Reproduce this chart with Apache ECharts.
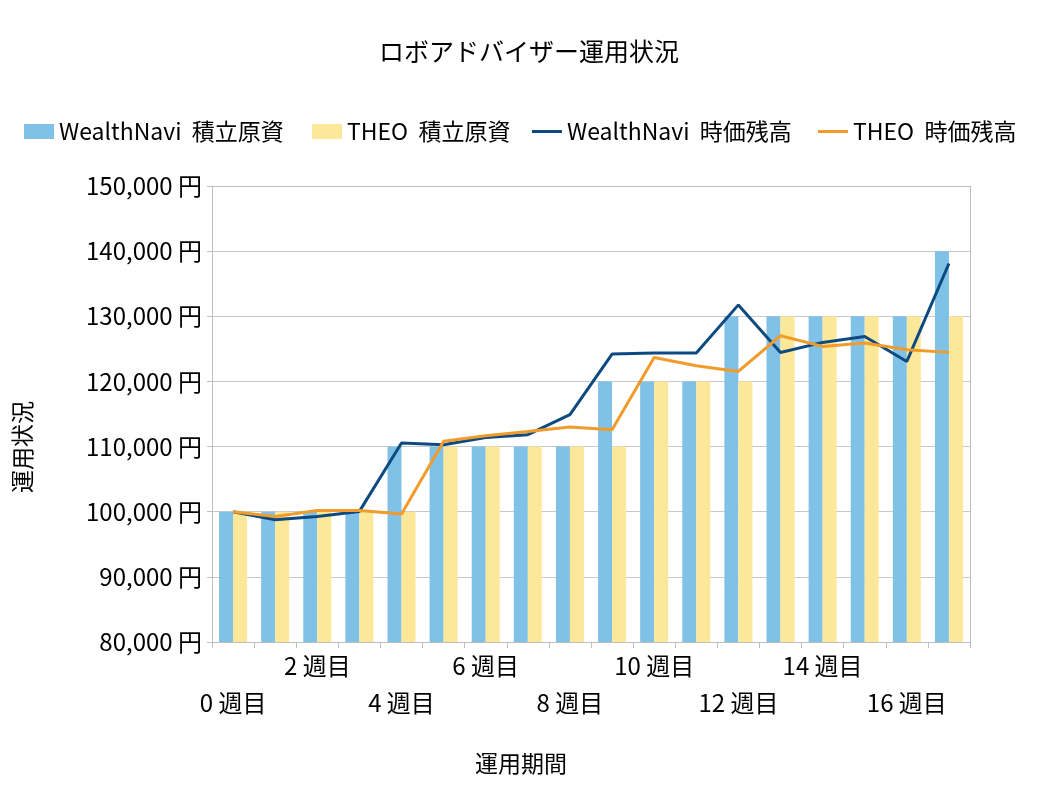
<!DOCTYPE html>
<html><head><meta charset="utf-8">
<script src="https://cdn.jsdelivr.net/npm/echarts@6/dist/echarts.min.js"></script>
<style>html,body{margin:0;padding:0;background:#fff}#c{width:1058px;height:794px}</style>
</head><body><div id="c"></div>
<script>
const categories = ['0 週目','1 週目','2 週目','3 週目','4 週目','5 週目','6 週目','7 週目','8 週目','9 週目','10 週目','11 週目','12 週目','13 週目','14 週目','15 週目','16 週目','17 週目'];
const wnPrincipal = [100000,100000,100000,100000,110000,110000,110000,110000,110000,120000,120000,120000,130000,130000,130000,130000,130000,140000];
const theoPrincipal = [100000,100000,100000,100000,100000,110000,110000,110000,110000,110000,120000,120000,120000,130000,130000,130000,130000,130000];
const wnValue = [100000,98770,99280,100050,110540,110290,111400,111820,114890,124200,124350,124350,131750,124450,125990,126910,123070,138100];
const theoValue = [100000,99280,100200,100200,99640,110800,111670,112330,113000,112590,123680,122410,121540,127010,125380,125890,124870,124460];
const seriesNames = ['WealthNavi  積立原資','THEO  積立原資','WealthNavi  時価残高','THEO  時価残高'];

const font = '"Noto Sans CJK JP", "Noto Sans", sans-serif';
const legendLefts = [19, 307, 527, 813];
const lineIcon = 'path://M0,0H30V3H0Z';
const legends = seriesNames.map((n, i) => ({
  top: 115, left: legendLefts[i], itemWidth: 30, itemHeight: 15,
  textStyle: {fontFamily: font, fontSize: 23, color: '#000'},
  data: [{name: n, icon: i < 2 ? 'rect' : lineIcon}]
}));

const chart = echarts.init(document.getElementById('c'));
chart.setOption({
  animation: false,
  textStyle: {fontFamily: font, color: '#000'},
  title: {text: 'ロボアドバイザー運用状況', left: 'center', top: 34,
    textStyle: {fontFamily: font, fontSize: 25, fontWeight: 'normal', color: '#000'}},
  legend: legends,
  grid: {left: 212, right: 88, top: 186, bottom: 152},
  xAxis: [{
    type: 'category', data: categories,
    name: '運用期間', nameLocation: 'middle', nameGap: 110,
    nameTextStyle: {fontFamily: font, fontSize: 23, color: '#000', padding: [0, 140, 0, 0]},
    axisLine: {lineStyle: {color: '#bfbfbf'}},
    axisTick: {show: true, interval: 0, length: 6, lineStyle: {color: '#bfbfbf'}},
    axisLabel: {interval: 0, margin: 12, fontSize: 24, color: '#000', fontFamily: font,
      formatter: (v, i) => (i % 4 === 2 ? v : '')},
    splitLine: {show: false}
  }, {
    type: 'category', data: categories, position: 'bottom',
    axisLine: {show: false}, axisTick: {show: false}, splitLine: {show: false},
    axisLabel: {interval: 0, margin: 49, fontSize: 24, color: '#000', fontFamily: font,
      formatter: (v, i) => (i % 4 === 0 ? v : '')}
  }, {
    type: 'category', data: categories, position: 'top',
    axisLine: {show: true, lineStyle: {color: '#bfbfbf'}}, axisTick: {show: false},
    axisLabel: {show: false}, splitLine: {show: false}
  }],
  yAxis: [{
    type: 'value', min: 80000, max: 150000, interval: 10000,
    name: '運用状況', nameLocation: 'middle', nameGap: 178, nameRotate: 90,
    nameTextStyle: {fontFamily: font, fontSize: 23, color: '#000', padding: [0, 66, 0, 0]},
    axisLine: {show: true, lineStyle: {color: '#bfbfbf'}},
    axisTick: {show: true, length: 5, lineStyle: {color: '#bfbfbf'}},
    axisLabel: {margin: 10, fontSize: 24, color: '#000', fontFamily: font,
      formatter: v => v.toLocaleString('en-US') + ' 円'},
    splitLine: {lineStyle: {color: '#c8c8c8', width: 1}}
  }, {
    type: 'value', min: 80000, max: 150000, interval: 10000, position: 'right',
    axisLine: {show: true, lineStyle: {color: '#bfbfbf'}},
    axisTick: {show: false}, axisLabel: {show: false}, splitLine: {show: false}
  }],
  series: [
    {name: seriesNames[0], type: 'bar', data: wnPrincipal, barWidth: 14, barGap: '0%',
      itemStyle: {color: '#80c1e8'}},
    {name: seriesNames[1], type: 'bar', data: theoPrincipal, barWidth: 14, barGap: '0%',
      itemStyle: {color: '#fde89a'}},
    {name: seriesNames[2], type: 'line', data: wnValue, symbol: 'none', showSymbol: false,
      lineStyle: {color: '#0e4a80', width: 3}, itemStyle: {color: '#0e4a80'}},
    {name: seriesNames[3], type: 'line', data: theoValue, symbol: 'none', showSymbol: false,
      lineStyle: {color: '#f19b2b', width: 3}, itemStyle: {color: '#f19b2b'}}
  ]
});
</script></body></html>
